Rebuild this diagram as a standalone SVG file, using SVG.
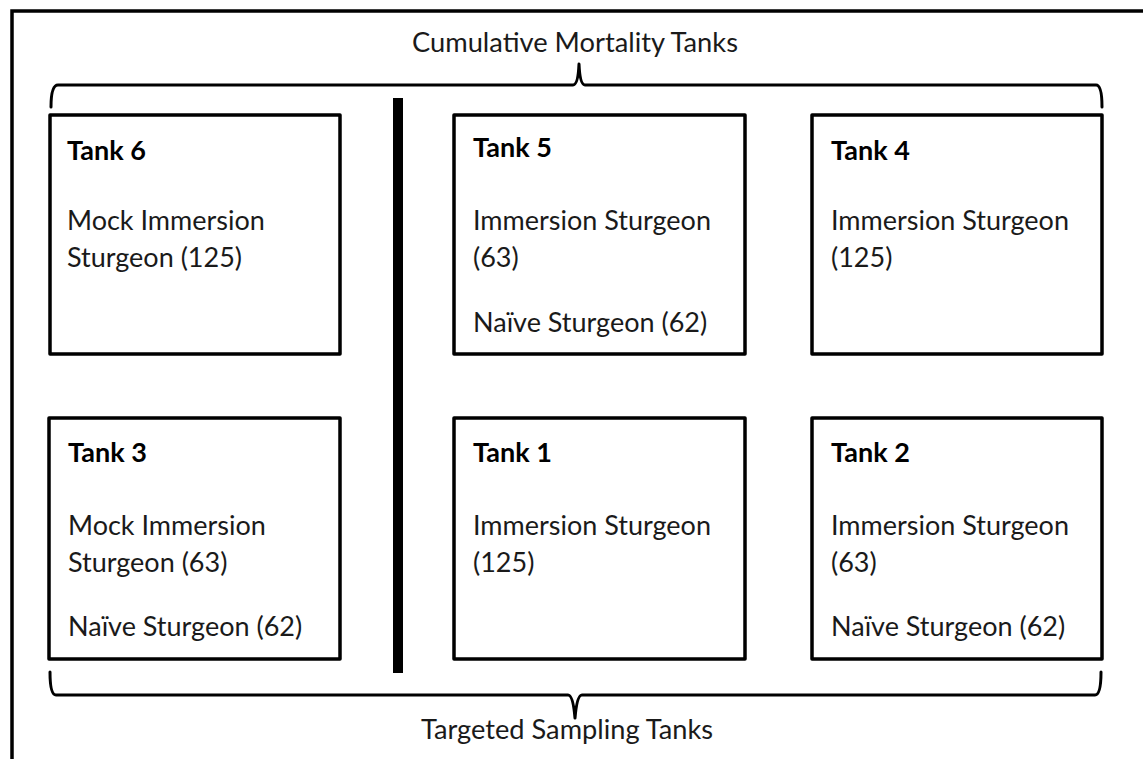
<svg xmlns="http://www.w3.org/2000/svg" width="1143" height="759" viewBox="0 0 1143 759">
<style>
.box{fill:#fff;stroke:#000;stroke-width:3.5;stroke-linejoin:round}
.brace{fill:none;stroke:#000;stroke-width:3;stroke-linejoin:round;stroke-linecap:round}
.t{font-family:Lato,"Liberation Sans",sans-serif;font-size:27px;fill:#1a1a1a}
.h{font-family:Lato,"Liberation Sans",sans-serif;font-size:27px;font-weight:bold;fill:#000}
</style>
<rect width="1143" height="759" fill="#fff"/>
<path d="M12,759 L12,11 L1143,11" fill="none" stroke="#000" stroke-width="3.5"/>
<g id="connectors">
<path class="brace" d="M51,107 Q51,85 58,85 L573,85 Q578,85 579,64 Q580,85 585,85 L1096,85 Q1102,85 1102,107"/>
<path class="brace" d="M50,672 Q50,695 56,695 L568,695 Q573,695 575,718 Q577,695 582,695 L1095,695 Q1101,695 1101,672"/>
<rect x="393" y="98" width="10" height="575" fill="#000"/>
</g>
<text class="t" x="575" y="52" text-anchor="middle" textLength="326" lengthAdjust="spacingAndGlyphs">Cumulative Mortality Tanks</text>
<text class="t" x="567" y="739" text-anchor="middle" textLength="292" lengthAdjust="spacingAndGlyphs">Targeted Sampling Tanks</text>
<g id="tank6">
<rect class="box" x="50" y="115" width="290" height="239"/>
<text class="h" x="67" y="160">Tank 6</text>
<text class="t" x="67" y="230">Mock Immersion</text>
<text class="t" x="67" y="267">Sturgeon (125)</text>
</g>
<g id="tank5">
<rect class="box" x="454" y="115" width="291" height="239"/>
<text class="h" x="473" y="157">Tank 5</text>
<text class="t" x="473" y="230">Immersion Sturgeon</text>
<text class="t" x="473" y="267">(63)</text>
<text class="t" x="473" y="332">Naïve Sturgeon (62)</text>
</g>
<g id="tank4">
<rect class="box" x="812" y="115" width="290" height="239"/>
<text class="h" x="831" y="160">Tank 4</text>
<text class="t" x="831" y="230">Immersion Sturgeon</text>
<text class="t" x="831" y="267">(125)</text>
</g>
<g id="tank3">
<rect class="box" x="49" y="418" width="291" height="241"/>
<text class="h" x="68" y="462">Tank 3</text>
<text class="t" x="68" y="535">Mock Immersion</text>
<text class="t" x="68" y="572">Sturgeon (63)</text>
<text class="t" x="68" y="636">Naïve Sturgeon (62)</text>
</g>
<g id="tank1">
<rect class="box" x="454" y="418" width="291" height="241"/>
<text class="h" x="473" y="462">Tank 1</text>
<text class="t" x="473" y="535">Immersion Sturgeon</text>
<text class="t" x="473" y="572">(125)</text>
</g>
<g id="tank2">
<rect class="box" x="812" y="418" width="290" height="241"/>
<text class="h" x="831" y="462">Tank 2</text>
<text class="t" x="831" y="535">Immersion Sturgeon</text>
<text class="t" x="831" y="572">(63)</text>
<text class="t" x="831" y="636">Naïve Sturgeon (62)</text>
</g>
</svg>
